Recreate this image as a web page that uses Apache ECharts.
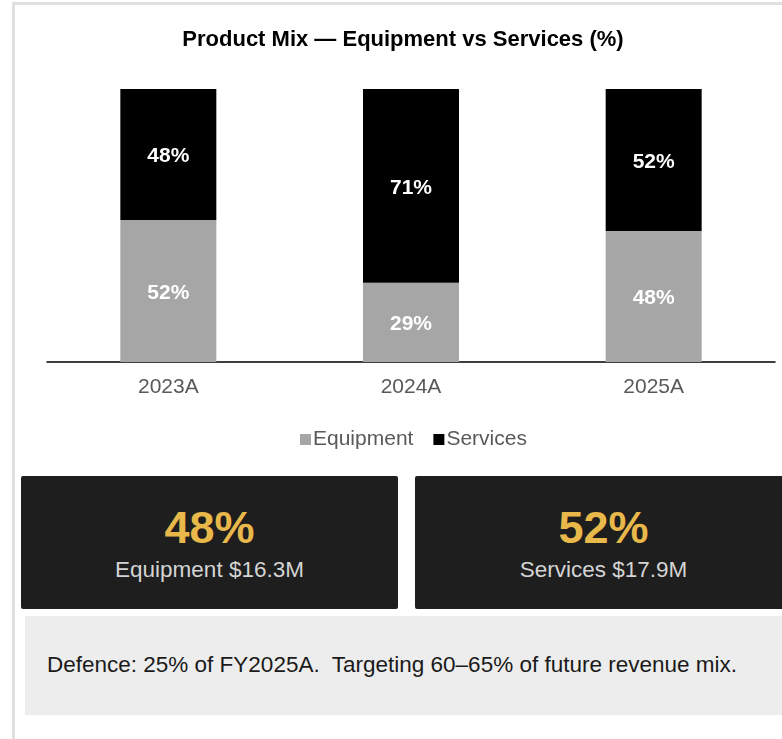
<!DOCTYPE html>
<html><head><meta charset="utf-8">
<script src="https://cdn.jsdelivr.net/npm/echarts@6/dist/echarts.min.js"></script>
<style>
html,body{margin:0;padding:0;width:782px;height:739px;overflow:hidden;background:#fff;font-family:"Liberation Sans",Arial,sans-serif;}
#frame{position:absolute;left:12px;top:2px;width:900px;height:800px;border-left:3px solid #e0e0e0;border-top:3px solid #e0e0e0;}
#chart{position:absolute;left:0;top:0;width:782px;height:460px;}
.card{position:absolute;top:476px;height:133px;width:377px;background:#1e1e1e;border-radius:2px;text-align:center;}
.card .num{position:absolute;left:0;right:0;top:27px;font-size:45px;font-weight:bold;color:#e8b84a;line-height:50px;}
.card .lbl{position:absolute;left:0;right:0;top:81px;font-size:22.5px;color:#d4d4d4;line-height:26px;}
#note{position:absolute;left:25px;top:616px;width:800px;height:99px;background:#ededed;}
#note span{position:absolute;left:22px;top:36px;font-size:22.5px;color:#1a1a1a;line-height:26px;white-space:nowrap;}
</style></head>
<body>
<div id="frame"></div>
<div id="chart"></div>
<div class="card" style="left:21px"><div class="num" id="n1"></div><div class="lbl" id="l1"></div></div>
<div class="card" style="left:415px"><div class="num" id="n2"></div><div class="lbl" id="l2"></div></div>
<div id="note"><span id="noteText"></span></div>
<script>
const categories = ['2023A', '2024A', '2025A'];
const equipment = [52, 29, 48];
const services = [48, 71, 52];
const seriesNames = ['Equipment', 'Services'];
const kpiValues = ['48%', '52%'];
const kpiLabels = ['Equipment $16.3M', 'Services $17.9M'];
const noteText = 'Defence: 25% of FY2025A.\u00a0 Targeting 60\u201365% of future revenue mix.';

document.getElementById('n1').textContent = kpiValues[0];
document.getElementById('n2').textContent = kpiValues[1];
document.getElementById('l1').textContent = kpiLabels[0];
document.getElementById('l2').textContent = kpiLabels[1];
document.getElementById('noteText').textContent = noteText;

const chart = echarts.init(document.getElementById('chart'));
const lbl = {show:true, position:'inside', color:'#fff', fontWeight:'bold', fontSize:21, fontFamily:'Liberation Sans', offset:[0,2], formatter: p => p.value + '%'};
chart.setOption({
  animation:false,
  title:{text:'Product Mix \u2014 Equipment vs Services (%)', left:398, textAlign:'center', top:24,
    textStyle:{fontSize:22, fontWeight:'bold', color:'#000', fontFamily:'Liberation Sans'}},
  legend:{data:seriesNames, left:295, top:424, itemWidth:11, itemHeight:11, itemGap:20, icon:'rect',
    textStyle:{fontSize:21, color:'#595959', fontFamily:'Liberation Sans', padding:[0,0,0,-3]}},
  grid:{left:47, right:7, top:89, height:273},
  xAxis:{type:'category', data:categories, axisLine:{lineStyle:{color:'#000', width:1.5}}, axisTick:{show:false},
    axisLabel:{fontSize:21, color:'#595959', margin:15, fontFamily:'Liberation Sans'}},
  yAxis:{type:'value', min:0, max:100, show:false, splitLine:{show:false}},
  series:[
    {name:seriesNames[0], type:'bar', stack:'a', barWidth:96, data:equipment, itemStyle:{color:'#a6a6a6'}, label:lbl},
    {name:seriesNames[1], type:'bar', stack:'a', barWidth:96, data:services, itemStyle:{color:'#000'}, label:lbl}
  ]
});
</script>
</body></html>
